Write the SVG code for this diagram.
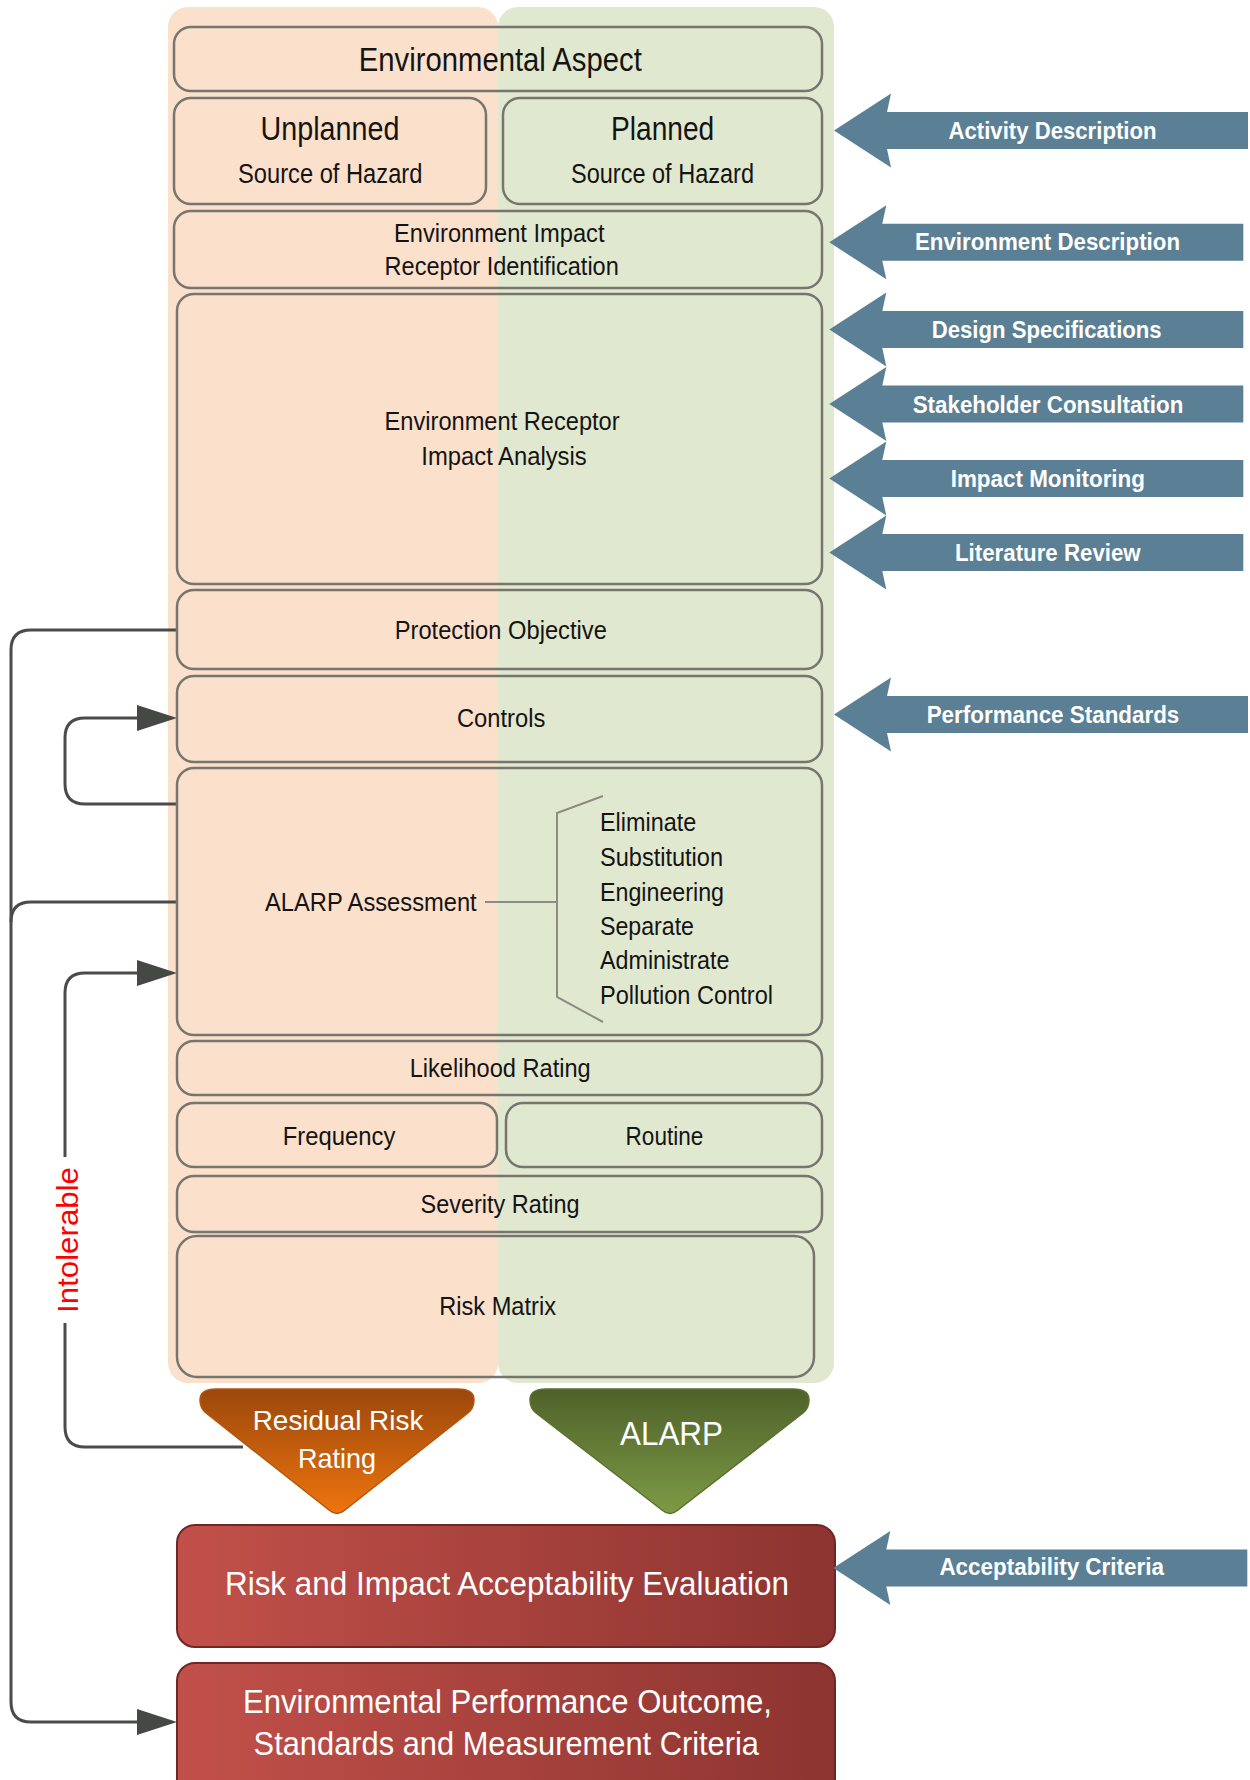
<svg xmlns="http://www.w3.org/2000/svg" width="1250" height="1780" viewBox="0 0 1250 1780">
<style>
.box{fill:none;stroke:#76766e;stroke-width:2.5}
.t{font-family:"Liberation Sans Narrow","Liberation Sans",Arial,sans-serif;fill:#141414;font-size:26.5px}
.big{font-size:34px}
.mid{font-size:27px}
.w{font-family:"Liberation Sans Narrow","Liberation Sans",Arial,sans-serif;fill:#ffffff;font-size:32.5px}
.bt{font-family:"Liberation Sans",Arial,sans-serif;font-weight:bold;fill:#ffffff;font-size:24px}
.wt{font-family:"Liberation Sans",Arial,sans-serif;fill:#ffffff;font-size:28px}
.con{fill:none;stroke:#4a4c4a;stroke-width:3}
.arr{fill:#5b7f94}
.red{fill:url(#redGrad);stroke:#6e2724;stroke-width:2}
</style>
<defs>
<linearGradient id="redGrad" x1="0" y1="0" x2="1" y2="0">
<stop offset="0" stop-color="#c2504a"/>
<stop offset="1" stop-color="#8d3430"/>
</linearGradient>
<linearGradient id="orGrad" x1="0" y1="0" x2="0" y2="1">
<stop offset="0" stop-color="#9b480c"/>
<stop offset="1" stop-color="#ee740e"/>
</linearGradient>
<linearGradient id="grGrad" x1="0" y1="0" x2="0" y2="1">
<stop offset="0" stop-color="#4f612a"/>
<stop offset="1" stop-color="#7c9b45"/>
</linearGradient>
<marker id="head" markerUnits="userSpaceOnUse" markerWidth="42" markerHeight="28" refX="33" refY="13" orient="auto">
<path d="M0,0 L40,13 L0,26 Z" fill="#464845"/>
</marker>
<path id="blueArrow" d="M0,0 L57,-37 L53,-18.5 L414,-18.5 L414,18.5 L53,18.5 L57,37 Z"/>
</defs>

<g id="panels">
<rect x="168" y="7" width="330" height="1376" rx="20" fill="#fbe0cc"/>
<rect x="498" y="7" width="336" height="1376" rx="20" fill="#e1e8d0"/>
</g>

<g id="connectors">
<path class="con" d="M177,630 H31 Q11,630 11,650 V1702 Q11,1722 31,1722 H170" marker-end="url(#head)"/>
<path class="con" d="M177,902 H31 Q11,902 11,922"/>
<path class="con" d="M177,804 H85 Q65,804 65,784 V738 Q65,718 85,718 H170" marker-end="url(#head)"/>
<path class="con" d="M243,1447 H85 Q65,1447 65,1427 V1323"/>
<path class="con" d="M65,1157 V993 Q65,973 85,973 H170" marker-end="url(#head)"/>
<text transform="translate(77.5,1240) rotate(-90)" x="-73" y="0" textLength="146" lengthAdjust="spacingAndGlyphs" font-family="Liberation Sans, Arial, sans-serif" font-size="30" fill="#ff0000">Intolerable</text>
<path d="M485,902 H557" fill="none" stroke="#8c8c80" stroke-width="2"/>
</g>

<g id="environmental-aspect">
<rect class="box" x="174" y="27" width="648" height="64" rx="17"/>
<text class="t big" x="358.8" y="70.5" textLength="283" lengthAdjust="spacingAndGlyphs">Environmental Aspect</text>
</g>
<g id="unplanned">
<rect class="box" x="174" y="98" width="312" height="106" rx="17"/>
<text class="t big" x="260.6" y="140" textLength="138.8" lengthAdjust="spacingAndGlyphs">Unplanned</text>
<text class="t mid" x="238" y="182.7" textLength="184.4" lengthAdjust="spacingAndGlyphs">Source of Hazard</text>
</g>
<g id="planned">
<rect class="box" x="503" y="98" width="319" height="106" rx="17"/>
<text class="t big" x="611" y="140" textLength="103.2" lengthAdjust="spacingAndGlyphs">Planned</text>
<text class="t mid" x="571" y="182.7" textLength="183" lengthAdjust="spacingAndGlyphs">Source of Hazard</text>
</g>
<g id="receptor-identification">
<rect class="box" x="174" y="211" width="648" height="77" rx="17"/>
<text class="t" x="394" y="241.7" textLength="210.5" lengthAdjust="spacingAndGlyphs">Environment Impact</text>
<text class="t" x="384.6" y="275.3" textLength="234.2" lengthAdjust="spacingAndGlyphs">Receptor Identification</text>
</g>
<g id="impact-analysis">
<rect class="box" x="177" y="294" width="645" height="290" rx="17"/>
<text class="t" x="384.6" y="430" textLength="235" lengthAdjust="spacingAndGlyphs">Environment Receptor</text>
<text class="t" x="421.3" y="465" textLength="165.4" lengthAdjust="spacingAndGlyphs">Impact Analysis</text>
</g>
<g id="protection-objective">
<rect class="box" x="177" y="590" width="645" height="79" rx="17"/>
<text class="t" x="394.7" y="639.3" textLength="212.2" lengthAdjust="spacingAndGlyphs">Protection Objective</text>
</g>
<g id="controls">
<rect class="box" x="177" y="676" width="645" height="86" rx="17"/>
<text class="t" x="456.9" y="727.3" textLength="88.4" lengthAdjust="spacingAndGlyphs">Controls</text>
</g>
<g id="alarp-assessment">
<rect class="box" x="177" y="768" width="645" height="267" rx="17"/>
<text class="t" x="265" y="910.7" textLength="211.7" lengthAdjust="spacingAndGlyphs">ALARP Assessment</text>
<path d="M603,796 L557,813 V997 L603,1022" fill="none" stroke="#8c8c80" stroke-width="2"/>
<text class="t" x="600" y="830.7" textLength="96.3" lengthAdjust="spacingAndGlyphs">Eliminate</text>
<text class="t" x="600" y="866" textLength="123" lengthAdjust="spacingAndGlyphs">Substitution</text>
<text class="t" x="600" y="900.7" textLength="124" lengthAdjust="spacingAndGlyphs">Engineering</text>
<text class="t" x="600" y="935" textLength="94" lengthAdjust="spacingAndGlyphs">Separate</text>
<text class="t" x="600" y="969.3" textLength="129.5" lengthAdjust="spacingAndGlyphs">Administrate</text>
<text class="t" x="600" y="1004" textLength="173" lengthAdjust="spacingAndGlyphs">Pollution Control</text>
</g>
<g id="likelihood-rating">
<rect class="box" x="177" y="1041" width="645" height="54" rx="17"/>
<text class="t" x="409.7" y="1076.7" textLength="181" lengthAdjust="spacingAndGlyphs">Likelihood Rating</text>
</g>
<g id="frequency">
<rect class="box" x="177" y="1103" width="320" height="64" rx="17"/>
<text class="t" x="282.8" y="1145" textLength="112.5" lengthAdjust="spacingAndGlyphs">Frequency</text>
</g>
<g id="routine">
<rect class="box" x="506" y="1103" width="316" height="64" rx="17"/>
<text class="t" x="625.6" y="1145" textLength="77.7" lengthAdjust="spacingAndGlyphs">Routine</text>
</g>
<g id="severity-rating">
<rect class="box" x="177" y="1176" width="645" height="56" rx="17"/>
<text class="t" x="420.5" y="1212.7" textLength="159" lengthAdjust="spacingAndGlyphs">Severity Rating</text>
</g>
<g id="risk-matrix">
<rect class="box" x="177" y="1236" width="637" height="141" rx="20"/>
<text class="t" x="439.2" y="1315" textLength="116.8" lengthAdjust="spacingAndGlyphs">Risk Matrix</text>
</g>

<g id="residual-risk-rating">
<path d="M216,1389 H458 Q474,1389 474,1400 Q474,1408 468,1413 L345,1510 Q337,1517 329,1510 L206,1413 Q200,1408 200,1400 Q200,1389 216,1389 Z" fill="url(#orGrad)" stroke="#b4560e" stroke-width="1.5"/>
<text class="wt" x="252.7" y="1430" textLength="170.7" lengthAdjust="spacingAndGlyphs">Residual Risk</text>
<text class="wt" x="298" y="1468" textLength="78" lengthAdjust="spacingAndGlyphs">Rating</text>
</g>
<g id="alarp">
<path d="M546,1389 H793 Q809,1389 809,1400 Q809,1408 803,1413 L678,1510 Q670,1517 662,1510 L536,1413 Q530,1408 530,1400 Q530,1389 546,1389 Z" fill="url(#grGrad)" stroke="#5a7030" stroke-width="1.5"/>
<text class="wt" x="620" y="1445" font-size="34" style="font-size:34px" textLength="103" lengthAdjust="spacingAndGlyphs">ALARP</text>
</g>

<g id="acceptability-evaluation">
<rect class="red" x="177" y="1525" width="658" height="122" rx="18"/>
<text class="w" x="225" y="1595" textLength="564" lengthAdjust="spacingAndGlyphs">Risk and Impact Acceptability Evaluation</text>
</g>
<g id="performance-outcome">
<rect class="red" x="177" y="1663" width="658" height="140" rx="18"/>
<text class="w" x="243" y="1713" textLength="529" lengthAdjust="spacingAndGlyphs">Environmental Performance Outcome,</text>
<text class="w" x="253.6" y="1755" textLength="505.4" lengthAdjust="spacingAndGlyphs">Standards and Measurement Criteria</text>
</g>

<g id="activity-description">
<use href="#blueArrow" class="arr" transform="translate(834,130.5)"/>
<text class="bt" x="948.5" y="139.3" textLength="208" lengthAdjust="spacingAndGlyphs">Activity Description</text>
</g>
<g id="environment-description">
<use href="#blueArrow" class="arr" transform="translate(829.3,242.3)"/>
<text class="bt" x="915" y="250" textLength="265" lengthAdjust="spacingAndGlyphs">Environment Description</text>
</g>
<g id="design-specifications">
<use href="#blueArrow" class="arr" transform="translate(829.3,329.5)"/>
<text class="bt" x="931.7" y="337.7" textLength="230" lengthAdjust="spacingAndGlyphs">Design Specifications</text>
</g>
<g id="stakeholder-consultation">
<use href="#blueArrow" class="arr" transform="translate(829.3,404)"/>
<text class="bt" x="912.7" y="412.7" textLength="270.6" lengthAdjust="spacingAndGlyphs">Stakeholder Consultation</text>
</g>
<g id="impact-monitoring">
<use href="#blueArrow" class="arr" transform="translate(829.3,478.5)"/>
<text class="bt" x="950.7" y="486.7" textLength="194.3" lengthAdjust="spacingAndGlyphs">Impact Monitoring</text>
</g>
<g id="literature-review">
<use href="#blueArrow" class="arr" transform="translate(829.3,552.5)"/>
<text class="bt" x="955" y="560.7" textLength="185.7" lengthAdjust="spacingAndGlyphs">Literature Review</text>
</g>
<g id="performance-standards">
<use href="#blueArrow" class="arr" transform="translate(834,714.5)"/>
<text class="bt" x="926.7" y="723.3" textLength="252.6" lengthAdjust="spacingAndGlyphs">Performance Standards</text>
</g>
<g id="acceptability-criteria">
<use href="#blueArrow" class="arr" transform="translate(833.3,1568)"/>
<text class="bt" x="939.4" y="1575" textLength="224.6" lengthAdjust="spacingAndGlyphs">Acceptability Criteria</text>
</g>
</svg>
